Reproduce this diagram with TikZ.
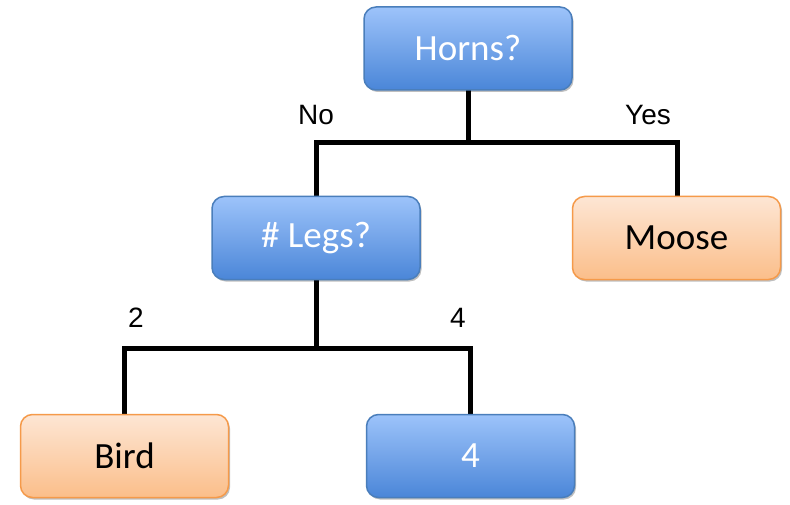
\documentclass[tikz,border=0pt]{standalone}
\usepackage{fontspec}
\setmainfont{Carlito}
\newfontfamily\labelfont{Liberation Sans}
\usetikzlibrary{shadows}
\definecolor{bluetop}{HTML}{9DC3FA}
\definecolor{bluebot}{HTML}{4A86D8}
\definecolor{blueline}{HTML}{4A7EBB}
\definecolor{orangetop}{HTML}{FDE6D4}
\definecolor{orangebot}{HTML}{FBBE8A}
\definecolor{orangeline}{HTML}{F59A4A}
\tikzset{
  box/.style={rounded corners=12pt, minimum width=208pt, minimum height=83pt,
    line width=1.5pt, font=\fontsize{37}{42}\selectfont,
    drop shadow={shadow xshift=1.5pt, shadow yshift=-2pt, opacity=0.25, fill=black}},
  decision/.style={box, draw=blueline, top color=bluetop, bottom color=bluebot, text=white},
  leaf/.style={box, draw=orangeline, top color=orangetop, bottom color=orangebot, text=black},
  branch/.style={line width=5pt, draw=black},
  edgelabel/.style={font=\labelfont\fontsize{28}{32}\selectfont, text=black}
}
\begin{document}
\begin{tikzpicture}[x=1pt,y=-1pt]
  \useasboundingbox (0,0) rectangle (790,505);
  \fill[white] (0,0) rectangle (790,505);

  % split points of the tree
  \coordinate (j1) at (468,143);
  \coordinate (j2) at (316,348);

  % connectors (drawn first so the boxes sit on top)
  \draw[branch] (468,48) -- (j1);
  \draw[branch] (316,238) |- (j1) -| (677,238);
  \draw[branch] (316,238) -- (j2);
  \draw[branch] (124,456) |- (j2) -| (470,456);

  % nodes
  \node[decision] (horns) at (468,48.5) {Horns?};
  \node[decision] (legs) at (316,238) {\# Legs?};
  \node[leaf] (moose) at (676.5,238) {Moose};
  \node[leaf] (bird) at (124.5,456) {Bird};
  \node[decision] (four) at (470.5,456) {4};

  % branch labels
  \node[edgelabel] (lno) at (316,115) {No};
  \node[edgelabel] (lyes) at (648,115) {Yes};
  \node[edgelabel] (ltwo) at (136,318) {2};
  \node[edgelabel] (lfour) at (458,318) {4};
\end{tikzpicture}
\end{document}
